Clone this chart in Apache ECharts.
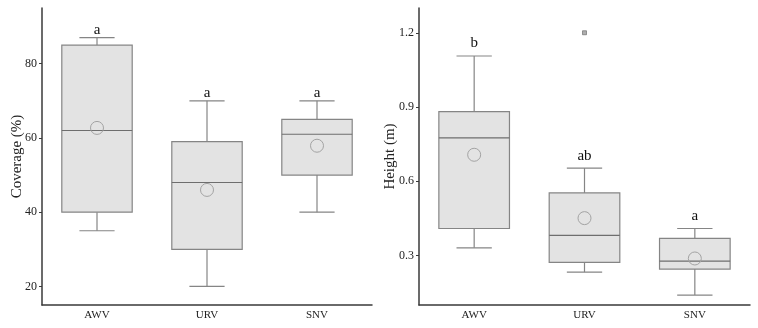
<!DOCTYPE html>
<html><head><meta charset="utf-8">
<script src="https://cdn.jsdelivr.net/npm/echarts@6/dist/echarts.min.js"></script>
<style>html,body{margin:0;padding:0;background:#fff}#c{width:758px;height:328px}</style>
</head><body><div id="c"></div>
<script>
const categories = ['AWV', 'URV', 'SNV'];
// [min, q1, median, q3, max]
const coverageBox = [[35, 40, 62, 85, 87], [20, 30, 48, 59, 70], [40, 50, 61, 65, 70]];
const coverageMean = [62.7, 46, 57.9];
const coverageLetters = ['a', 'a', 'a'];
const coverageTicks = [20, 40, 60, 80];

const heightBox = [[0.331, 0.409, 0.775, 0.881, 1.106], [0.233, 0.272, 0.381, 0.553, 0.653], [0.140, 0.245, 0.277, 0.369, 0.409]];
const heightMean = [0.707, 0.451, 0.288];
const heightLetters = ['b', 'ab', 'a'];
const heightOutliers = [[1, 1.2]];
const heightTicks = [0.3, 0.6, 0.9, 1.2];

const FONT = 'Liberation Serif';
const boxStroke = '#858585';

function makeData(box, mean, letters) {
  return box.map((b, i) => [i, b[0], b[1], b[2], b[3], b[4], mean[i], letters[i]]);
}

function makeRenderer(letterGap) {
  return function (params, api) {
    const i = api.value(0);
    const pMin = api.coord([i, api.value(1)]);
    const pQ1 = api.coord([i, api.value(2)]);
    const pMed = api.coord([i, api.value(3)]);
    const pQ3 = api.coord([i, api.value(4)]);
    const pMax = api.coord([i, api.value(5)]);
    const pMean = api.coord([i, api.value(6)]);
    const band = api.size([1, 0])[0];
    const bw = band * 0.64;
    const cw = bw * 0.5;
    const x = pMed[0];
    const ls = { stroke: boxStroke, lineWidth: 1.2 };
    return {
      type: 'group',
      children: [
        { type: 'line', shape: { x1: x, y1: pMin[1], x2: x, y2: pQ1[1] }, style: ls },
        { type: 'line', shape: { x1: x, y1: pQ3[1], x2: x, y2: pMax[1] }, style: ls },
        { type: 'line', shape: { x1: x - cw / 2, y1: pMin[1], x2: x + cw / 2, y2: pMin[1] }, style: ls },
        { type: 'line', shape: { x1: x - cw / 2, y1: pMax[1], x2: x + cw / 2, y2: pMax[1] }, style: ls },
        { type: 'rect', shape: { x: x - bw / 2, y: pQ3[1], width: bw, height: pQ1[1] - pQ3[1] },
          style: { fill: '#e3e3e3', stroke: boxStroke, lineWidth: 1.2 } },
        { type: 'line', shape: { x1: x - bw / 2, y1: pMed[1], x2: x + bw / 2, y2: pMed[1] }, style: { stroke: '#6e6e6e', lineWidth: 1.2 } },
        { type: 'circle', shape: { cx: x, cy: pMean[1], r: 6.5 }, style: { fill: 'none', stroke: '#a3a3a3', lineWidth: 1 } },
        { type: 'text', x: x, y: pMax[1] - letterGap,
          style: { text: api.value(7), font: '15px "' + FONT + '"', fill: '#111', align: 'center', verticalAlign: 'bottom' } }
      ]
    };
  };
}

function yAxis(gi, min, max, ticks, name, gap, dec) {
  return {
    type: 'value', gridIndex: gi, min: min, max: max,
    name: name, nameLocation: 'middle', nameGap: gap, nameMoveOverlap: false,
    nameTextStyle: { fontFamily: FONT, fontSize: 15, color: '#222' },
    axisLine: { show: true, lineStyle: { color: '#3a3a3a', width: 1.5 } },
    axisTick: { show: true, length: 3, customValues: ticks, lineStyle: { color: '#3a3a3a' } },
    axisLabel: { customValues: ticks, margin: 5, fontFamily: FONT, fontSize: 12, color: '#222',
      formatter: v => dec ? v.toFixed(1) : String(v) },
    splitLine: { show: false }
  };
}
function xAxis(gi) {
  return {
    type: 'category', gridIndex: gi, data: categories, boundaryGap: true,
    axisLine: { lineStyle: { color: '#3a3a3a', width: 1.5 } },
    axisTick: { alignWithLabel: true, inside: true, length: 3, lineStyle: { color: '#3a3a3a' } },
    axisLabel: { fontFamily: FONT, fontSize: 11, color: '#222', margin: 5 },
    splitLine: { show: false }
  };
}

const chart = echarts.init(document.getElementById('c'), null, { renderer: 'canvas' });
chart.setOption({
  animation: false,
  backgroundColor: '#fff',
  grid: [
    { left: 42, right: 386, top: 8, bottom: 23 },
    { left: 419, right: 8, top: 8, bottom: 23 }
  ],
  xAxis: [xAxis(0), xAxis(1)],
  yAxis: [
    yAxis(0, 15, 95, coverageTicks, 'Coverage (%)', 17, false),
    yAxis(1, 0.1, 1.3, heightTicks, 'Height (m)', 21, true)
  ],
  series: [
    { type: 'custom', xAxisIndex: 0, yAxisIndex: 0, renderItem: makeRenderer(0),
      data: makeData(coverageBox, coverageMean, coverageLetters), encode: { x: 0, y: [1, 2, 3, 4, 5, 6] } },
    { type: 'custom', xAxisIndex: 1, yAxisIndex: 1, renderItem: makeRenderer(5),
      data: makeData(heightBox, heightMean, heightLetters), encode: { x: 0, y: [1, 2, 3, 4, 5, 6] } },
    { type: 'scatter', xAxisIndex: 1, yAxisIndex: 1, symbol: 'rect', symbolSize: 4,
      itemStyle: { color: '#9a9a9a', borderColor: '#666', borderWidth: 0.8 },
      data: heightOutliers }
  ]
});
</script></body></html>
